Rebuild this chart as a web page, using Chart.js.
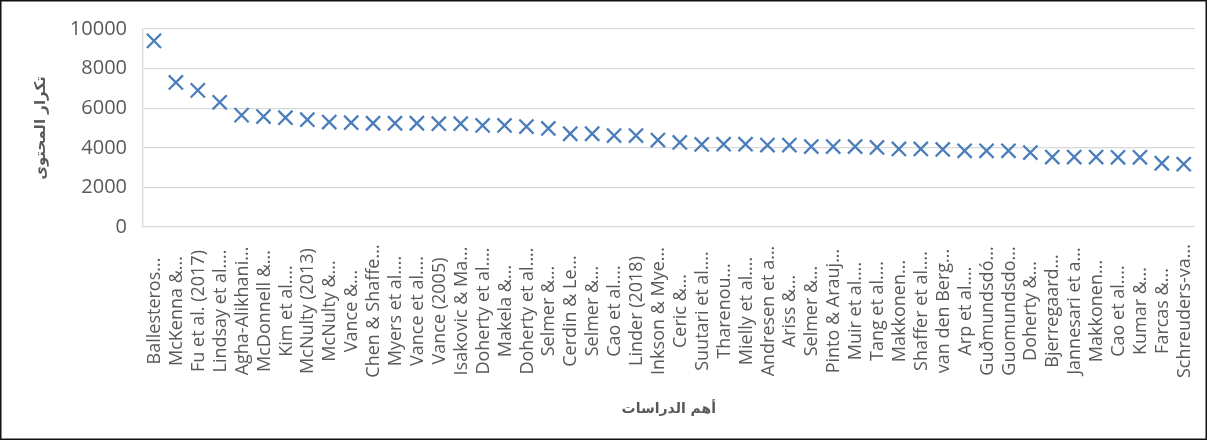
<!DOCTYPE html>
<html>
<head>
<meta charset="utf-8">
<script src="https://cdn.jsdelivr.net/npm/chart.js@4"></script>
<style>
  body { margin: 0; background: #fff; }
  #wrap { width: 1207px; height: 440px; }
</style>
</head>
<body>
<div id="wrap"><canvas id="chart" width="1207" height="440"></canvas></div>
<script>
const studies = [
  'Ballesteros...', 'McKenna &...', 'Fu et al. (2017)', 'Lindsay et al....',
  'Agha-Alikhani...', 'McDonnell &...', 'Kim et al....', 'McNulty (2013)',
  'McNulty &...', 'Vance &...', 'Chen & Shaffe...', 'Myers et al....',
  'Vance et al....', 'Vance (2005)', 'Isakovic & Ma...', 'Doherty et al....',
  'Makela &...', 'Doherty et al....', 'Selmer &...', 'Cerdin & Le...',
  'Selmer &...', 'Cao et al....', 'Linder (2018)', 'Inkson & Mye...',
  'Ceric &...', 'Suutari et al....', 'Tharenou...', 'Mielly et al....',
  'Andresen et a...', 'Ariss &...', 'Selmer &...', 'Pinto & Arauj...',
  'Muir et al....', 'Tang et al....', 'Makkonen...', 'Shaffer et al....',
  'van den Berg...', 'Arp et al....', 'Guðmundsdó...', 'Guomundsdo...',
  'Doherty &...', 'Bjerregaard...', 'Jannesari et a...', 'Makkonen...',
  'Cao et al....', 'Kumar &...', 'Farcas &...', 'Schreuders-va...'
];

const frequency = [
  9400, 7300, 6900, 6300, 5650, 5580, 5520, 5420,
  5300, 5270, 5240, 5240, 5240, 5220, 5220, 5130,
  5130, 5070, 4980, 4710, 4710, 4620, 4620, 4390,
  4270, 4170, 4180, 4180, 4140, 4140, 4060, 4060,
  4060, 4020, 3940, 3940, 3920, 3850, 3850, 3850,
  3760, 3530, 3530, 3530, 3520, 3520, 3220, 3170
];

const yTicks = [0, 2000, 4000, 6000, 8000, 10000];

const yTitle = 'تكرار المحتوى';
const xTitle = 'أهم الدراسات';

const grey = '#595959';
const gridGrey = '#d9d9d9';

// draws the rotated study names centred in the label band, plus the outer frame
const labelsAndFrame = {
  id: 'labelsAndFrame',
  afterDraw(chart) {
    const ctx = chart.ctx;
    const xs = chart.scales.x;
    ctx.save();
    ctx.fillStyle = grey;
    ctx.font = '18px "Open Sans"';
    ctx.textAlign = 'center';
    ctx.textBaseline = 'middle';
    studies.forEach((name, i) => {
      const px = xs.getPixelForTick(i);
      ctx.save();
      ctx.translate(px + 1, 311);
      ctx.rotate(-Math.PI / 2);
      ctx.fillText(name, 0, 0);
      ctx.restore();
    });
    ctx.strokeStyle = '#111';
    ctx.lineWidth = 1.5;
    ctx.strokeRect(0.75, 0.75, chart.width - 1.5, chart.height - 1.5);
    ctx.restore();
  }
};

new Chart(document.getElementById('chart'), {
  type: 'line',
  data: {
    labels: studies,
    datasets: [{
      data: frequency,
      showLine: false,
      pointStyle: 'crossRot',
      pointRadius: 10,
      pointHoverRadius: 10,
      pointBorderWidth: 2.3,
      borderColor: '#4a7dba',
      backgroundColor: '#4a7dba'
    }]
  },
  options: {
    responsive: false,
    animation: false,
    layout: { padding: { top: 29, right: 8, left: 0, bottom: 0 } },
    plugins: {
      legend: { display: false },
      tooltip: { enabled: false }
    },
    scales: {
      x: {
        offset: true,
        grid: { display: false },
        border: { display: false },
        ticks: { display: false },
        title: {
          display: true,
          text: xTitle,
          color: grey,
          font: { family: '"DejaVu Sans", sans-serif', size: 14, weight: 'bold' },
          padding: { top: 0, bottom: 22 }
        },
        afterFit(scale) { scale.height = 213; }
      },
      y: {
        min: 0,
        max: 10000,
        afterBuildTicks(scale) { scale.ticks = yTicks.map(v => ({ value: v })); },
        grid: { color: gridGrey, lineWidth: 1.3, drawTicks: false },
        border: { color: gridGrey, width: 1.3 },
        ticks: {
          color: grey,
          padding: 16,
          font: { family: '"Open Sans"', size: 20 },
          callback: (v) => String(v)
        },
        title: {
          display: true,
          text: yTitle,
          color: grey,
          font: { family: '"DejaVu Sans", sans-serif', size: 15, weight: 'bold' },
          padding: { top: 32, bottom: 0 }
        },
        afterFit(scale) { scale.width = 143; }
      }
    }
  },
  plugins: [labelsAndFrame]
});
</script>
</body>
</html>
